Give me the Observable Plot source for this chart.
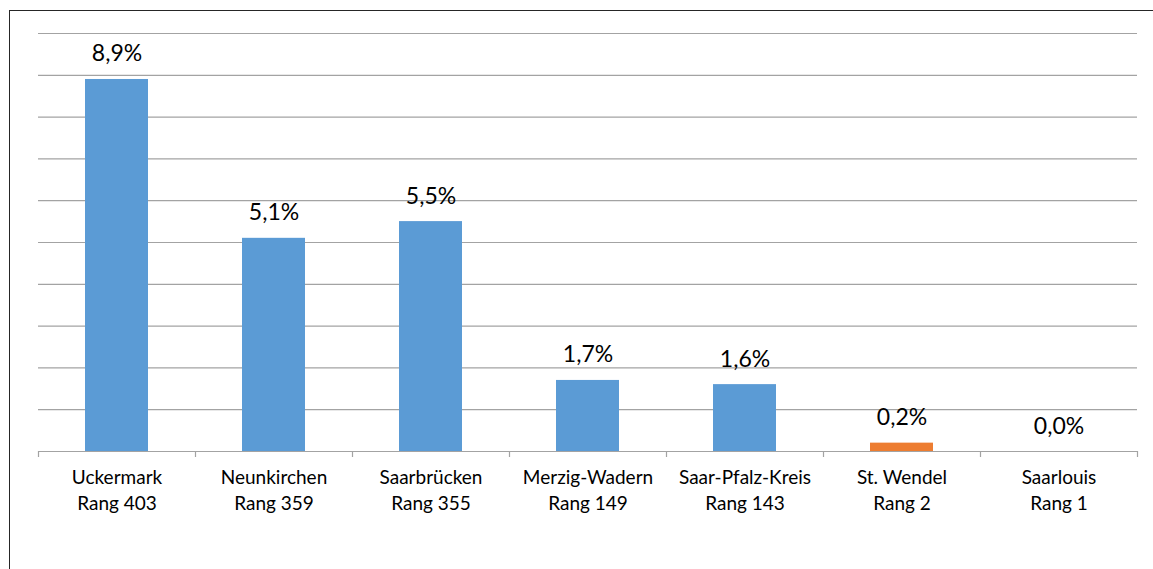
<!DOCTYPE html>
<html>
<head>
<meta charset="utf-8">
<script src="https://cdn.jsdelivr.net/npm/d3@7"></script>
<script src="https://cdn.jsdelivr.net/npm/@observablehq/plot@0.6"></script>
<style>
  html, body { margin: 0; padding: 0; background: #fff; overflow: hidden; }
  body { width: 1153px; height: 569px; position: relative; font-family: Lato, sans-serif; }
  #chart { position: absolute; left: 0; top: 0; }
  #frame {
    position: absolute; left: 9px; top: 10px; width: 1400px; height: 800px;
    border: 1px solid #262626; box-sizing: border-box; pointer-events: none;
  }
</style>
</head>
<body>
<div id="chart"></div>
<div id="frame"></div>
<script>
// Share of values per district, with nationwide rank
const regions = ["Uckermark", "Neunkirchen", "Saarbrücken", "Merzig-Wadern", "Saar-Pfalz-Kreis", "St. Wendel", "Saarlouis"];
const ranks = [403, 359, 355, 149, 143, 2, 1];
const values = [8.9, 5.1, 5.5, 1.7, 1.6, 0.2, 0.0];
const highlighted = "St. Wendel";
const yTicks = [0, 1, 2, 3, 4, 5, 6, 7, 8, 9, 10];

const data = regions.map((name, i) => ({ i, name, rank: ranks[i], value: values[i] }));
const fmt = v => v.toFixed(1).replace(".", ",") + "%";

const chart = Plot.plot({
  width: 1153,
  height: 569,
  marginLeft: 38,
  marginRight: 16,
  marginTop: 33,
  marginBottom: 118,
  style: { fontFamily: "Lato, sans-serif", color: "#000", background: "transparent" },
  x: { type: "linear", domain: [0, regions.length], axis: null },
  y: { domain: [0, 10], axis: null },
  marks: [
    Plot.gridY(yTicks.slice(1), { stroke: "#a3a3a3", strokeOpacity: 1, strokeWidth: 1.2 }),
    Plot.rectY(data, {
      x1: "i",
      x2: d => d.i + 1,
      y1: 0,
      y2: "value",
      insetLeft: 47,
      insetRight: 47,
      fill: d => d.name === highlighted ? "#ed7d31" : "#5b9bd5"
    }),
    Plot.ruleY([0], { stroke: "#a3a3a3", strokeWidth: 1.2 }),
    // boundary tick marks between categories
    Plot.axisX(d3.range(regions.length + 1), {
      tickSize: 6,
      tickFormat: () => "",
      label: null,
      stroke: "#a3a3a3",
      strokeWidth: 1.2
    }),
    // category labels centred under each bar
    Plot.axisX(data.map(d => d.i + 0.5), {
      tickSize: 0,
      tickPadding: 14,
      label: null,
      tickFormat: x => {
        const d = data[Math.floor(x)];
        return `${d.name}\nRang ${d.rank}`;
      },
      fontSize: 19,
      lineHeight: 1.37,
      fill: "#000"
    }),
    // value labels
    Plot.text(data, {
      x: d => d.i + 0.5,
      y: "value",
      text: d => fmt(d.value),
      lineAnchor: "bottom",
      dy: -18,
      fontSize: 23,
      fill: "#000"
    })
  ]
});

document.getElementById("chart").appendChild(chart);
</script>
</body>
</html>
